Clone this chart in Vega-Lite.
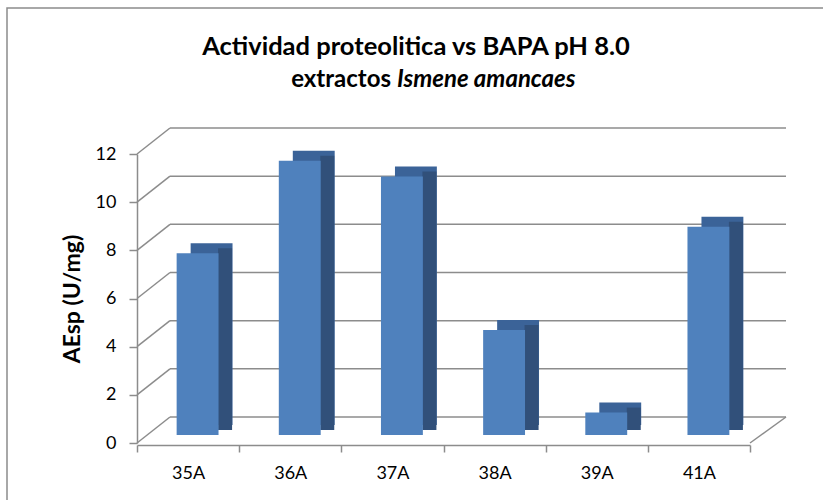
{
  "$schema": "https://vega.github.io/schema/vega-lite/v6.json",
  "autosize": "none",
  "width": 818,
  "height": 494,
  "padding": {"left": 7, "top": 8, "right": -2, "bottom": -2},
  "background": "white",
  "config": {
    "font": "Lato",
    "view": {"stroke": "#8c8c8c", "strokeWidth": 1.5},
    "axis": {"grid": false}
  },
  "title": {
    "text": "Actividad proteolitica vs BAPA pH 8.0",
    "fontSize": 25.5,
    "fontWeight": "bold",
    "color": "#000000",
    "anchor": "middle",
    "offset": -52
  },
  "data": {
    "values": [
      {"muestra": "35A", "aesp": 7.55},
      {"muestra": "36A", "aesp": 11.39},
      {"muestra": "37A", "aesp": 10.73},
      {"muestra": "38A", "aesp": 4.36},
      {"muestra": "39A", "aesp": 0.93},
      {"muestra": "41A", "aesp": 8.65}
    ]
  },
  "resolve": {"scale": {"x": "independent"}},
  "layer": [
    {
      "data": {"values": [{"v": 0}, {"v": 2}, {"v": 4}, {"v": 6}, {"v": 8}, {"v": 10}, {"v": 12}]},
      "mark": {"type": "rule", "color": "#8c8c8c", "strokeWidth": 1.5, "xOffset": 33, "x2Offset": 36, "yOffset": -26},
      "encoding": {
        "x": {"datum": 0, "type": "quantitative", "scale": {"domain": [0, 1], "range": [130, 743]}, "axis": null},
        "x2": {"datum": 1},
        "y": {"field": "v", "type": "quantitative", "title": "AEsp (U/mg)", "scale": {"domain": [0, 12], "range": [435, 146], "nice": false}}
      }
    },
    {
      "data": {"values": [{"v": 0}, {"v": 2}, {"v": 4}, {"v": 6}, {"v": 8}, {"v": 10}, {"v": 12}]},
      "mark": {"type": "rule", "color": "#8c8c8c", "strokeWidth": 1.5, "x2Offset": 33, "y2Offset": -26},
      "encoding": {
        "x": {"datum": 0, "type": "quantitative", "scale": {"domain": [0, 1], "range": [130, 743]}, "axis": null},
        "x2": {"datum": 0},
        "y": {"field": "v", "type": "quantitative", "title": "AEsp (U/mg)", "scale": {"domain": [0, 12], "range": [435, 146], "nice": false}},
        "y2": {"field": "v"}
      }
    },
    {
      "data": {"values": [{"v": 0}]},
      "mark": {"type": "rule", "color": "#8c8c8c", "strokeWidth": 1.5, "x2Offset": 36, "y2Offset": -26},
      "encoding": {
        "x": {"datum": 1, "type": "quantitative", "scale": {"domain": [0, 1], "range": [130, 743]}, "axis": null},
        "x2": {"datum": 1},
        "y": {"field": "v", "type": "quantitative", "title": "AEsp (U/mg)", "scale": {"domain": [0, 12], "range": [435, 146], "nice": false}},
        "y2": {"field": "v"}
      }
    },
    {
      "mark": {"type": "bar", "color": "#3b6398", "xOffset": 23.5, "yOffset": -18, "y2Offset": -18, "width": {"band": 0.41}},
      "encoding": {
        "x": {"field": "muestra", "type": "nominal", "sort": null, "scale": {"range": [130, 743], "paddingInner": 0, "paddingOuter": 0}, "axis": null},
        "y": {"field": "aesp", "type": "quantitative", "title": "AEsp (U/mg)", "scale": {"domain": [0, 12], "range": [435, 146], "nice": false}}
      }
    },
    {
      "mark": {"type": "bar", "color": "#31507a", "xOffset": 37, "yOffset": -13, "y2Offset": -13, "width": {"band": 0.137}},
      "encoding": {
        "x": {"field": "muestra", "type": "nominal", "sort": null, "scale": {"range": [130, 743], "paddingInner": 0, "paddingOuter": 0}, "axis": null},
        "y": {"field": "aesp", "type": "quantitative", "title": "AEsp (U/mg)", "scale": {"domain": [0, 12], "range": [435, 146], "nice": false}}
      }
    },
    {
      "mark": {"type": "bar", "color": "#4f81bd", "xOffset": 9.5, "yOffset": -8, "y2Offset": -8, "width": {"band": 0.41}},
      "encoding": {
        "x": {
          "field": "muestra", "type": "nominal", "sort": null,
          "scale": {"range": [130, 743], "paddingInner": 0, "paddingOuter": 0},
          "axis": {
            "orient": "bottom", "offset": -57, "title": null, "tickBand": "extent",
            "domainColor": "#8c8c8c", "domainWidth": 1.5, "tickColor": "#8c8c8c", "tickWidth": 1.5, "tickSize": 7,
            "labelFontSize": 18, "labelColor": "#000000", "labelPadding": 12, "labelAngle": 0
          }
        },
        "y": {
          "field": "aesp", "type": "quantitative", "title": "AEsp (U/mg)",
          "scale": {"domain": [0, 12], "range": [435, 146], "nice": false},
          "axis": {
            "orient": "left", "offset": -130, "values": [0, 2, 4, 6, 8, 10, 12], "grid": false,
            "domainColor": "#8c8c8c", "domainWidth": 1.5, "tickColor": "#8c8c8c", "tickWidth": 1.5, "tickSize": 8,
            "labelFontSize": 18, "labelColor": "#000000", "labelPadding": 13,
            "title": "AEsp (U/mg)", "titleFontSize": 23, "titleFontWeight": "bold", "titleColor": "#000000", "titlePadding": 11
          }
        }
      }
    },
    {
      "data": {"values": [{"t": "extractos"}]},
      "mark": {"type": "text", "align": "right", "baseline": "alphabetic", "fontSize": 24, "fontWeight": "bold", "color": "#000000", "dx": -52.5},
      "encoding": {
        "x": {"datum": 0.5, "type": "quantitative", "scale": {"domain": [0, 1], "range": [130, 743]}, "axis": null},
        "y": {"datum": 14.78, "type": "quantitative", "title": "AEsp (U/mg)", "scale": {"domain": [0, 12], "range": [435, 146], "nice": false}},
        "text": {"field": "t"}
      }
    },
    {
      "data": {"values": [{"t": "Ismene amancaes"}]},
      "mark": {"type": "text", "align": "left", "baseline": "alphabetic", "fontSize": 24, "fontWeight": "bold", "fontStyle": "italic", "color": "#000000", "dx": -46.5},
      "encoding": {
        "x": {"datum": 0.5, "type": "quantitative", "scale": {"domain": [0, 1], "range": [130, 743]}, "axis": null},
        "y": {"datum": 14.78, "type": "quantitative", "title": "AEsp (U/mg)", "scale": {"domain": [0, 12], "range": [435, 146], "nice": false}},
        "text": {"field": "t"}
      }
    }
  ]
}
